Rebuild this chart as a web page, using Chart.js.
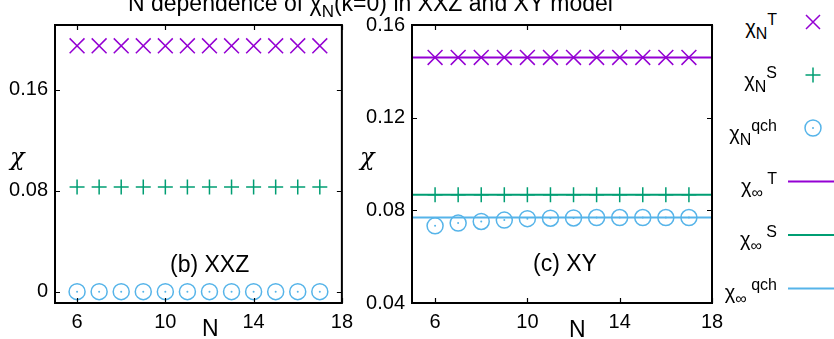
<!DOCTYPE html>
<html>
<head>
<meta charset="utf-8">
<script src="https://cdn.jsdelivr.net/npm/chart.js@4.4.1/dist/chart.umd.min.js"></script>
<style>
  html, body { margin:0; padding:0; background:#fff; }
  body { width:834px; height:339px; position:relative; overflow:hidden; font-family:"Liberation Sans", Arial, sans-serif; color:#000; }
  .box { position:absolute; }
  canvas { display:block; }
  .txt { position:absolute; white-space:nowrap; line-height:1; }
  .chi { position:absolute; white-space:nowrap; line-height:1; font-family:"DejaVu Serif", "Liberation Serif", serif; font-style:italic; font-size:24px; }
  .leg { position:absolute; right:57px; font-size:20px; line-height:1; white-space:nowrap; text-align:right; }
  .leg sub { font-size:16px; vertical-align:-5px; }
  .leg sup { font-size:16px; vertical-align:9px; }
</style>
</head>
<body>
<div class="box" style="left:0;top:0;width:360px;height:339px;"><canvas id="c1" width="360" height="339" style="width:360px;height:339px;"></canvas></div>
<div class="box" style="left:360px;top:0;width:380px;height:339px;"><canvas id="c2" width="380" height="339" style="width:380px;height:339px;"></canvas></div>

<div class="txt" style="left:128px;top:-8px;font-size:23px;">N dependence of χ<sub style="font-size:17px;vertical-align:-6px;">N</sub>(k=0) in XXZ and XY model</div>
<div class="chi" style="left:10px;top:145px;">χ</div>
<div class="chi" style="left:360px;top:145px;">χ</div>
<div class="txt" style="left:202px;top:317px;font-size:23px;">N</div>
<div class="txt" style="left:569px;top:318px;font-size:23px;">N</div>
<div class="txt" style="left:170px;top:253px;font-size:23px;">(b) XXZ</div>
<div class="txt" style="left:533px;top:252px;font-size:23px;">(c) XY</div>

<div class="leg" style="top:12px;">χ<sub>N</sub><sup>T</sup></div>
<div class="leg" style="top:65px;">χ<sub>N</sub><sup>S</sup></div>
<div class="leg" style="top:118px;">χ<sub>N</sub><sup>qch</sup></div>
<div class="leg" style="top:171px;">χ<sub>∞</sub><sup>&nbsp;T</sup></div>
<div class="leg" style="top:224px;">χ<sub>∞</sub><sup>&nbsp;S</sup></div>
<div class="leg" style="top:277px;">χ<sub>∞</sub><sup>&nbsp;qch</sup></div>
<svg class="box" style="left:780px;top:0;" width="54" height="339">
  <g stroke-width="1.5" fill="none">
    <path d="M26 15 L40 29 M40 15 L26 29" stroke="#9400d3"/>
    <path d="M25.5 75 L40.5 75 M33 67.5 L33 82.5" stroke="#009e73"/>
    <circle cx="33" cy="128" r="8" stroke="#56b4e9"/>
    <circle cx="33" cy="128" r="1" fill="#56b4e9" stroke="none"/>
    <path d="M8 181.5 L54 181.5" stroke="#9400d3" stroke-width="2"/>
    <path d="M8 235 L54 235" stroke="#009e73" stroke-width="2"/>
    <path d="M8 288.5 L54 288.5" stroke="#56b4e9" stroke-width="2"/>
  </g>
</svg>

<script>
// ---- data ----
const nValues = [6, 7, 8, 9, 10, 11, 12, 13, 14, 15, 16, 17];
const xTicks = [6, 10, 14, 18];
const yTicksXXZ = [0, 0.08, 0.16];
const yTicksXY = [0.04, 0.08, 0.12, 0.16];

const xxzT   = [0.195, 0.195, 0.195, 0.195, 0.195, 0.195, 0.195, 0.195, 0.195, 0.195, 0.195, 0.195];
const xxzS   = [0.083, 0.083, 0.083, 0.083, 0.083, 0.083, 0.083, 0.083, 0.083, 0.083, 0.083, 0.083];
const xxzQch = [0, 0, 0, 0, 0, 0, 0, 0, 0, 0, 0, 0];

const xyT   = [0.146, 0.146, 0.146, 0.146, 0.146, 0.146, 0.146, 0.146, 0.146, 0.146, 0.146, 0.146];
const xyS   = [0.0867, 0.0867, 0.0867, 0.0867, 0.0867, 0.0867, 0.0867, 0.0867, 0.0867, 0.0867, 0.0867, 0.0867];
const xyQch = [0.0733, 0.0745, 0.0752, 0.0758, 0.0764, 0.0766, 0.0767, 0.0769, 0.0769, 0.0769, 0.0769, 0.0769];

const xyInfT = 0.146;
const xyInfS = 0.0867;
const xyInfQch = 0.0769;
const infRange = [5, 18];

const PURPLE = '#9400d3', GREEN = '#009e73', CYAN = '#56b4e9';

Chart.defaults.color = '#000';
Chart.defaults.font.family = '"Liberation Sans", Arial, sans-serif';
Chart.defaults.font.size = 20;

const pts = (ys) => nValues.map((n, i) => ({x: n, y: ys[i]}));
const flat = (v) => infRange.map(x => ({x: x, y: v}));

const framePlugin = {
  id: 'frame',
  afterDraw(chart) {
    const {ctx, chartArea: a, scales} = chart;
    ctx.save();
    ctx.strokeStyle = '#000';
    ctx.lineWidth = 1.2;
    const L = 5;
    ctx.beginPath();
    scales.x.ticks.forEach(t => {
      const px = Math.round(scales.x.getPixelForValue(t.value)) + 0.5;
      ctx.moveTo(px, a.bottom); ctx.lineTo(px, a.bottom - L);
      ctx.moveTo(px, a.top); ctx.lineTo(px, a.top + L);
    });
    scales.y.ticks.forEach(t => {
      const py = Math.round(scales.y.getPixelForValue(t.value)) + 0.5;
      ctx.moveTo(a.left, py); ctx.lineTo(a.left + L, py);
      ctx.moveTo(a.right, py); ctx.lineTo(a.right - L, py);
    });
    ctx.stroke();
    ctx.lineWidth = 2;
    ctx.strokeRect(a.left, a.top, a.right - a.left, a.bottom - a.top);
    ctx.restore();
  }
};

function markerSets(T, S, Q) {
  return [
    {data: pts(T), pointStyle: 'crossRot', pointRadius: 10.5, borderColor: PURPLE, borderWidth: 1.5, showLine: false},
    {data: pts(S), pointStyle: 'cross', pointRadius: 7.5, borderColor: GREEN, borderWidth: 1.5, showLine: false},
    {data: pts(Q), pointStyle: 'circle', pointRadius: 8, borderColor: CYAN, backgroundColor: 'rgba(0,0,0,0)', borderWidth: 1.5, showLine: false},
    {data: pts(Q), pointStyle: 'circle', pointRadius: 1, borderWidth: 0, backgroundColor: CYAN, borderColor: CYAN, showLine: false}
  ];
}

function makeOptions(yMin, yMax, yTicks, yWidth, padRight) {
  return {
    responsive: false,
    animation: false,
    clip: false,
    layout: {padding: {top: 25, right: padRight, left: 0, bottom: 0}},
    plugins: {legend: {display: false}, tooltip: {enabled: false}},
    elements: {point: {hoverRadius: 0}},
    scales: {
      x: {
        type: 'linear', min: 5, max: 18,
        grid: {display: false, drawTicks: false},
        border: {display: false},
        ticks: {padding: 7, maxRotation: 0, autoSkip: false},
        afterBuildTicks: s => { s.ticks = xTicks.map(v => ({value: v})); },
        afterFit: s => { s.height = 36; }
      },
      y: {
        type: 'linear', min: yMin, max: yMax,
        grid: {display: false, drawTicks: false},
        border: {display: false},
        ticks: {padding: 7, autoSkip: false, callback: v => String(v)},
        afterBuildTicks: s => { s.ticks = yTicks.map(v => ({value: v})); },
        afterFit: s => { s.width = yWidth; }
      }
    }
  };
}

new Chart(document.getElementById('c1'), {
  type: 'scatter',
  data: {datasets: markerSets(xxzT, xxzS, xxzQch)},
  options: makeOptions(-0.009, 0.2115, yTicksXXZ, 55, 12),
  plugins: [framePlugin]
});

new Chart(document.getElementById('c2'), {
  type: 'scatter',
  data: {datasets: [
    {data: flat(xyInfT), showLine: true, pointRadius: 0, borderColor: PURPLE, borderWidth: 2},
    {data: flat(xyInfS), showLine: true, pointRadius: 0, borderColor: GREEN, borderWidth: 2},
    {data: flat(xyInfQch), showLine: true, pointRadius: 0, borderColor: CYAN, borderWidth: 2},
    ...markerSets(xyT, xyS, xyQch)
  ]},
  options: makeOptions(0.04, 0.16, yTicksXY, 52, 28),
  plugins: [framePlugin]
});
</script>
</body>
</html>
